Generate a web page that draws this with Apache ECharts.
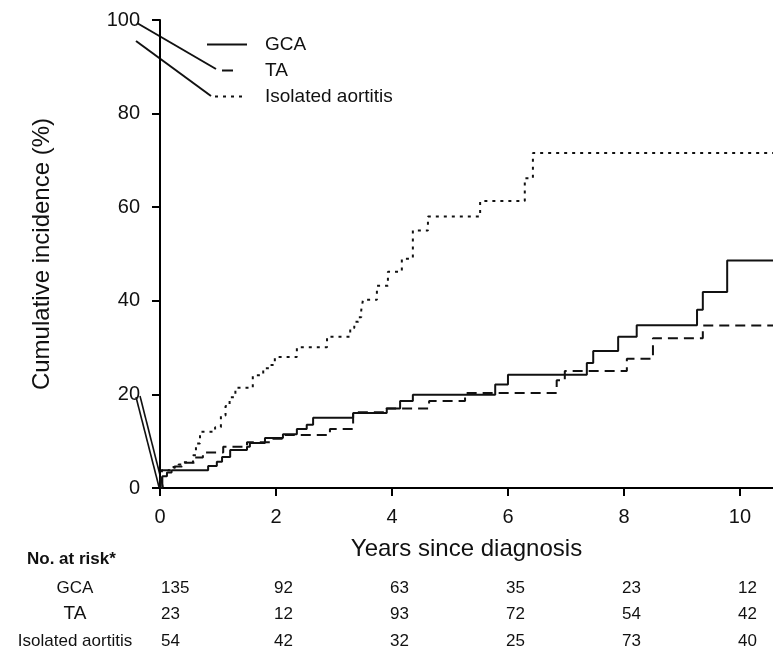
<!DOCTYPE html>
<html>
<head>
<meta charset="utf-8">
<script src="https://cdn.jsdelivr.net/npm/echarts@6/dist/echarts.min.js"></script>
<style>
html,body{margin:0;padding:0;background:#fff;}
#chart{width:773px;height:654px;}
</style>
</head>
<body>
<div id="chart"></div>
<script>
// ---- data ----
const seriesNames = ['GCA', 'TA', 'Isolated aortitis'];
const xEnd = 10.57;
// Kaplan-Meier style cumulative incidence steps: [years, %]
const gcaSteps = [[0,0],[0.04,2.5],[0.12,3.3],[0.2,3.8],[0.83,4.7],[0.98,5.6],[1.07,6.6],[1.21,8.1],[1.5,8.8],[1.55,9.6],[1.81,10.7],[2.12,11.5],[2.36,12.6],[2.53,13.5],[2.64,15.0],[3.33,16.0],[3.91,17.0],[4.14,18.6],[4.36,19.9],[5.78,22.1],[6.0,24.2],[7.36,26.7],[7.47,29.3],[7.9,32.3],[8.22,34.8],[9.26,38.1],[9.36,41.9],[9.78,48.6],[10.57,48.6]];
const taSteps = [[0,0],[0.03,3.8],[0.25,4.6],[0.38,5.4],[0.6,6.5],[0.74,7.6],[1.09,8.8],[1.5,9.8],[1.9,10.5],[2.12,11.3],[2.93,12.6],[3.33,16.2],[3.9,17.0],[4.64,18.6],[5.26,20.3],[6.84,23.0],[6.98,25.0],[8.05,27.6],[8.5,32.0],[9.36,34.7],[10.57,34.7]];
const iaSteps = [[0,0],[0.03,3.8],[0.2,4.5],[0.32,5.0],[0.4,5.5],[0.57,7.0],[0.62,9.5],[0.69,12.0],[0.95,13.0],[1.05,15.5],[1.13,17.5],[1.2,19.4],[1.3,21.4],[1.6,24.1],[1.78,25.6],[1.9,26.3],[1.98,28.0],[2.36,30.1],[2.88,32.3],[3.28,34.2],[3.35,35.5],[3.42,36.5],[3.47,38.0],[3.5,40.2],[3.74,43.2],[3.93,46.2],[4.17,49.0],[4.36,55.0],[4.62,58.0],[5.52,61.3],[6.29,66.2],[6.43,71.6],[10.57,71.6]];
const yTicks = [0, 20, 40, 60, 80, 100];
const xTicks = [0, 2, 4, 6, 8, 10];
const riskTitle = 'No. at risk*';
const riskRows = ['GCA', 'TA', 'Isolated aortitis'];
const riskGCA = [135, 92, 63, 35, 23, 12];
const riskTA = [23, 12, 93, 72, 54, 42];
const riskIA = [54, 42, 32, 25, 73, 40];

const FONT = '"Liberation Sans", Arial, Helvetica, sans-serif';
const INK = '#111';

const chart = echarts.init(document.getElementById('chart'), null, {renderer: 'canvas'});

function lineSeries(name, data, type) {
  return {
    name: name, type: 'line', step: 'end', data: data,
    symbol: 'none', silent: true, animation: false,
    itemStyle: {color: INK},
    lineStyle: {color: INK, width: 2, type: type}
  };
}

const option = {
  backgroundColor: '#fff',
  animation: false,
  color: [INK, INK, INK],
  textStyle: {fontFamily: FONT},
  grid: {left: 160, right: 0, top: 20, bottom: 166, containLabel: false},
  legend: {
    orient: 'vertical', left: 201, top: 30,
    itemWidth: 40, itemHeight: 16, itemGap: 7,
    itemStyle: {opacity: 0},
    textStyle: {fontFamily: FONT, fontSize: 19, color: INK, padding: [0, 0, 0, 13]},
    data: [
      {name: 'GCA', lineStyle: {color: INK, width: 2}},
      {name: 'TA', lineStyle: {color: INK, width: 2, type: [0, 15, 11, 100]}},
      {name: 'Isolated aortitis', lineStyle: {color: INK, width: 2, type: [0, 8, 3, 5, 3, 5, 3, 5, 3, 100]}}
    ]
  },
  xAxis: {
    type: 'value', min: 0, max: xEnd, interval: 2,
    name: 'Years since diagnosis', nameLocation: 'middle', nameGap: 49,
    nameTextStyle: {fontFamily: FONT, fontSize: 24, color: INK},
    axisLine: {show: true, lineStyle: {color: '#000', width: 2}},
    axisTick: {show: true, length: 8, lineStyle: {color: '#000', width: 2}},
    axisLabel: {fontFamily: FONT, fontSize: 20, color: INK, margin: 19, showMaxLabel: false,
      formatter: v => (xTicks.indexOf(v) >= 0 ? String(v) : '')},
    splitLine: {show: false}
  },
  yAxis: {
    type: 'value', min: 0, max: 100, interval: 20,
    name: 'Cumulative incidence (%)', nameLocation: 'middle', nameGap: 106,
    nameTextStyle: {fontFamily: FONT, fontSize: 24, color: INK},
    axisLine: {show: true, lineStyle: {color: '#000', width: 2}},
    axisTick: {show: true, length: 8, lineStyle: {color: '#000', width: 2}},
    axisLabel: {fontFamily: FONT, fontSize: 20, color: INK, margin: 20,
      formatter: v => (yTicks.indexOf(v) >= 0 ? String(v) : '')},
    splitLine: {show: false}
  },
  series: [
    lineSeries(seriesNames[0], gcaSteps, 'solid'),
    lineSeries(seriesNames[1], taSteps, [10, 6]),
    lineSeries(seriesNames[2], iaSteps, [3, 5])
  ]
};
chart.setOption(option);

// ---- number-at-risk table + decorative leader strokes ----
const g = [];
const txt = (x, y, s, size, weight, align) => ({
  type: 'text', silent: true,
  x: x, y: y,
  style: {text: s, fill: INK, font: (weight || 'normal') + ' ' + size + 'px ' + FONT,
    textAlign: align || 'left', textVerticalAlign: 'middle'}
});
g.push(txt(27, 559, riskTitle, 17, 'bold', 'left'));
const rowY = [588, 614, 641];
const rowSize = [17, 19, 17];
const rows = [riskGCA, riskTA, riskIA];
riskRows.forEach((r, i) => {
  g.push(txt(75, rowY[i], r, rowSize[i], 'normal', 'center'));
  rows[i].forEach((n, j) => {
    const px = chart.convertToPixel({xAxisIndex: 0}, xTicks[j]);
    g.push(txt(px - 2 + (j === 0 ? 3 : 0), rowY[i], String(n), 17, 'normal', 'left'));
  });
});
const seg = (x1, y1, x2, y2, w) => ({
  type: 'line', silent: true,
  shape: {x1: x1, y1: y1, x2: x2, y2: y2},
  style: {stroke: INK, lineWidth: w || 2}
});
g.push(seg(137, 23, 216, 69));
g.push(seg(136, 41, 211, 96));
g.push(seg(136, 397, 159, 487, 1.6));
g.push(seg(140, 396, 163, 487, 1.6));
chart.setOption({graphic: g});
</script>
</body>
</html>
